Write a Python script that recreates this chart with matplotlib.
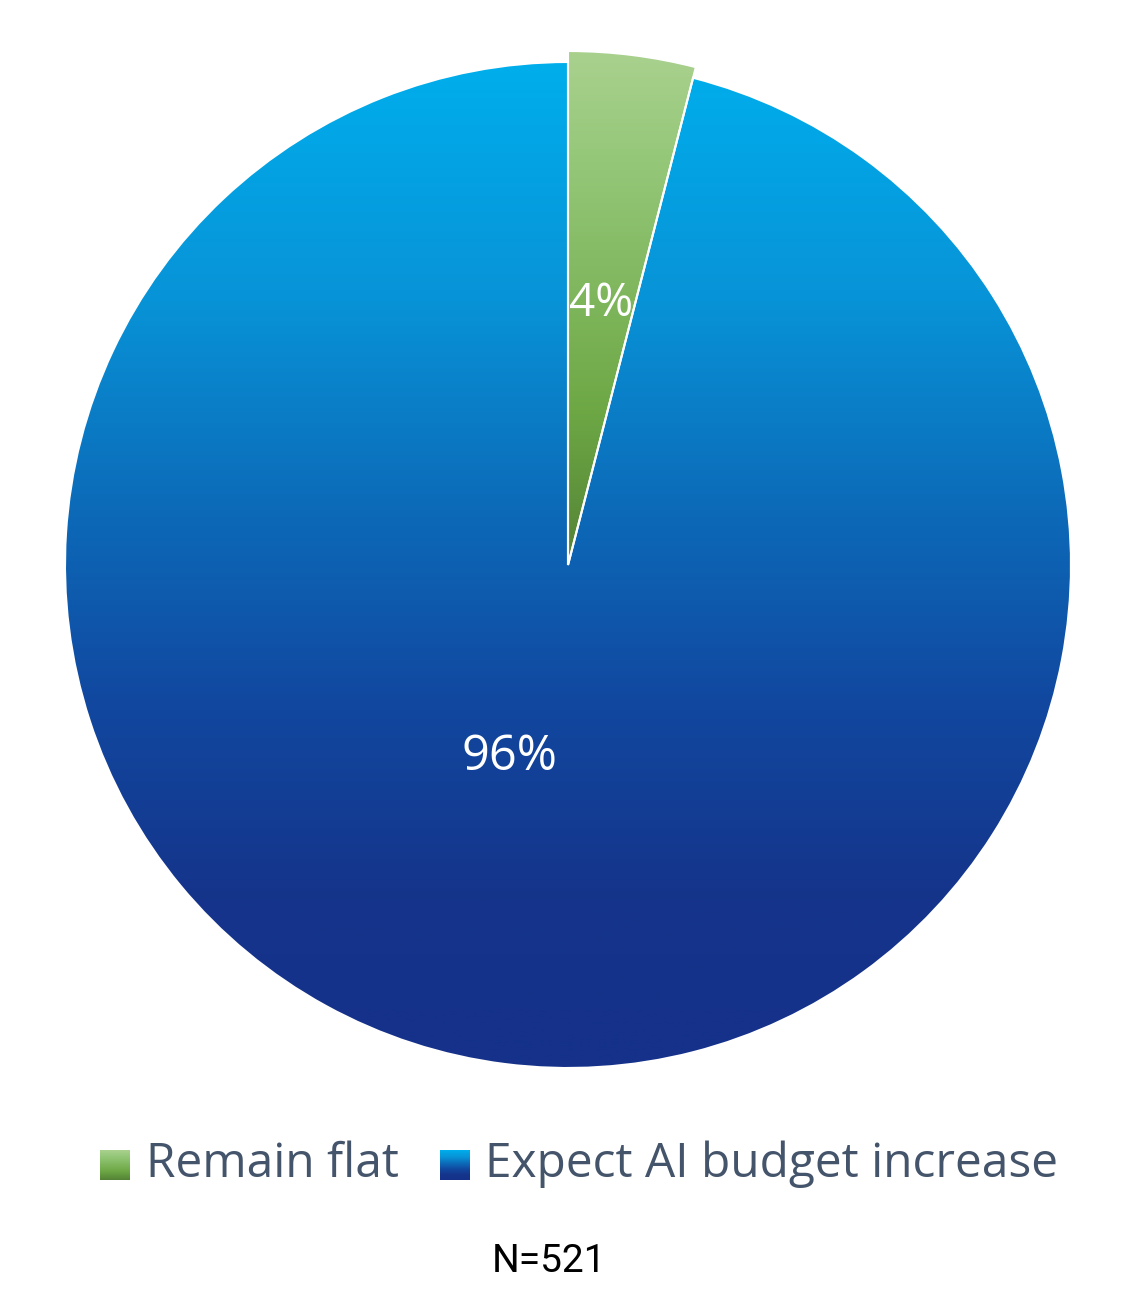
import numpy as np
import matplotlib
matplotlib.use("Agg")
import matplotlib.pyplot as plt
from matplotlib.colors import LinearSegmentedColormap

labels = ["Remain flat", "Expect AI budget increase"]
values = [4, 96]
pct_labels = ["4%", "96%"]
note = "N=521"

W, H = 1138, 1315
fig = plt.figure(figsize=(W / 100, H / 100), dpi=100)
ax = fig.add_axes([0, 0, 1, 1])

cx, cy = 568, H - 565
R = 503

blue_cmap = LinearSegmentedColormap.from_list(
    "blue", [(0.0, "#00AEEC"), (0.236, "#0893D7"), (0.435, "#0C6CBA"),
             (0.634, "#1148A0"), (0.833, "#15348A"), (1.0, "#15318A")])
green_cmap = LinearSegmentedColormap.from_list(
    "green", [(0.0, "#A9D18E"), (0.2, "#96C87A"), (0.7, "#6DA845"), (1.0, "#548235")])

wedges, _ = ax.pie(values, startangle=90, counterclock=False, radius=R,
                   center=(cx, cy), frame=True,
                   wedgeprops=dict(linewidth=1.5, edgecolor="white"))
ax.set_xlim(0, W)
ax.set_ylim(0, H)
ax.set_aspect("equal")
ax.axis("off")
wedges[0].set_radius(R + 11)

grad = np.linspace(0, 1, 512).reshape(-1, 1)
img_b = ax.imshow(grad, cmap=blue_cmap, aspect="auto", origin="upper",
                  extent=(cx - R, cx + R, cy - R, cy + R), zorder=1)
img_b.set_clip_path(wedges[1])
top_g = cy + R + 11
img_g = ax.imshow(grad, cmap=green_cmap, aspect="auto", origin="upper",
                  extent=(cx - 5, cx + 140, cy, top_g), zorder=1)
img_g.set_clip_path(wedges[0])
for w in wedges:
    w.set_facecolor("none")
    w.set_zorder(2)
ax.set_xlim(0, W)
ax.set_ylim(0, H)

ax.text(601, H - 304, pct_labels[0], color="white", fontsize=33,
        family=["Open Sans", "DejaVu Sans"], ha="center", va="center", zorder=3)
ax.text(509, H - 757, pct_labels[1], color="white", fontsize=35,
        family=["Open Sans", "DejaVu Sans"], ha="center", va="center", zorder=3)

leg_y = H - 1165
sq = 30
leg_items = [(100, green_cmap, labels[0], 146), (440, blue_cmap, labels[1], 485)]
for x0, cmap, lab, tx in leg_items:
    ax.imshow(grad, cmap=cmap, aspect="auto", origin="upper",
              extent=(x0, x0 + sq, leg_y - sq / 2, leg_y + sq / 2), zorder=3)
    ax.text(tx, leg_y + 1, lab, color="#44546A", fontsize=34.5,
            family=["Open Sans", "DejaVu Sans"], ha="left", va="center", zorder=3)
ax.set_xlim(0, W)
ax.set_ylim(0, H)

ax.text(549, H - 1262, note, color="black", fontsize=28,
        family=["Roboto", "DejaVu Sans"], ha="center", va="center")

fig.savefig("out.png", dpi=100)
